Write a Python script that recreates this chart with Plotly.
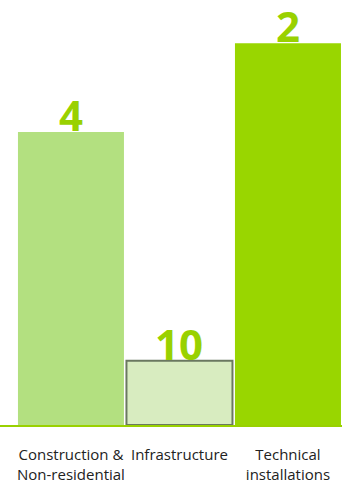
import plotly.graph_objects as go

categories = ["Construction &<br>Non-residential", "Infrastructure", "Technical<br>installations"]
values = [7.67, 1.68, 10.0]
rank_labels = ["4", "10", "2"]
bar_colors = ["#b3e080", "#d8ecc0", "#99d600"]
line_colors = ["#b3e080", "#6a7860", "#99d600"]
line_widths = [0, 2, 0]
x_pos = [0, 1, 2]

fig = go.Figure(go.Bar(
    x=x_pos,
    y=values,
    width=0.977,
    marker=dict(color=bar_colors, line=dict(color=line_colors, width=line_widths)),
    hoverinfo="skip",
))

for xi, v, lab in zip(x_pos, values, rank_labels):
    fig.add_annotation(
        x=xi, y=v, text=lab, showarrow=False,
        xanchor="center", yanchor="bottom", yshift=-12, borderpad=0,
        font=dict(family="Open Sans", size=42, color="#99d100", weight="bold"),
    )

fig.update_layout(
    width=342, height=486,
    margin=dict(l=0, r=0, t=0, b=61),
    paper_bgcolor="white", plot_bgcolor="white",
    showlegend=False,
    xaxis=dict(
        range=[-0.654, 2.498],
        tickvals=x_pos, ticktext=categories,
        tickfont=dict(family="Open Sans", size=15, color="#222222"),
        ticklabelstandoff=15,
        showline=True, linecolor="#99d100", linewidth=2,
        showgrid=False, zeroline=False, ticks="",
    ),
    yaxis=dict(range=[0, 11.13], visible=False, showgrid=False, zeroline=False),
)

fig.write_html("out.html", config={"displayModeBar": False},
               post_script="document.body.style.margin='0';")
